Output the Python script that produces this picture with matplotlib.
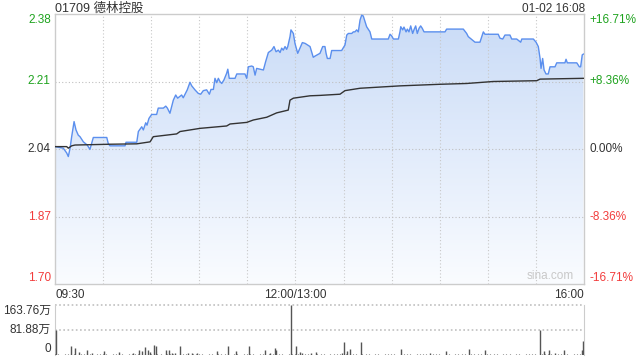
import numpy as np
import matplotlib
matplotlib.use('Agg')
import matplotlib.pyplot as plt
from matplotlib.colors import LinearSegmentedColormap

plt.rcParams['font.family'] = ['Liberation Sans', 'Noto Sans CJK SC', 'DejaVu Sans']

# minutes since 09:30 (lunch break removed), 330 = 16:00
price_t = [0, 5.2, 7.3, 8.3, 9.4, 10.4, 11.9, 13.1, 14.5, 15.6,
           17.7, 20.1, 21.8, 23.9, 32.3, 33.2, 34.3, 43.7, 44.3, 51,
           52, 54.1, 55.1, 56.6, 57.4, 58.6, 60.3, 63.4, 64.4, 67.6,
           69.1, 70.1, 71.7, 72.8, 73.8, 75.3, 76.5, 79, 80, 81.1,
           82.5, 84.2, 85.3, 87.3, 89.4, 90.9, 92.5, 94.6, 96.3, 97.3,
           98.8, 99.8, 100.9, 101.9, 102.9, 104, 105.4, 107.1, 107.8, 108.7,
           112.3, 113.4, 118.5, 119.6, 120.6, 122.7, 123.7, 124.8, 125.8, 130,
           131.4, 133.1, 135.2, 136.6, 137.9, 139.3, 140.4, 141.4, 142.4, 143.5,
           144.5, 145.2, 146.6, 147.2, 148.7, 149.7, 151.4, 152.8, 154.3, 156,
           159.1, 161.1, 162.2, 165.3, 167, 168.4, 169.1, 169.9, 171.6, 172.6,
           178.8, 180.9, 182, 183, 185.1, 186.1, 187.1, 188.2, 189.2, 190.3,
           191.3, 192.3, 193.4, 194.4, 196.5, 197.6, 207.9, 209, 210, 211.1,
           214.2, 215.2, 215.7, 216.9, 217.7, 219, 219.8, 220.8, 221.9, 223.1,
           224, 225, 226, 227.1, 228.1, 229.1, 230.2, 243.3, 244.3, 254.7,
           256.8, 257.8, 259.9, 262, 265.1, 266.2, 267.2, 268.2, 276.5, 277.6,
           279.3, 280.7, 283.8, 284.9, 288, 290.5, 291.2, 298.4, 300.1, 301.5,
           302.6, 303.2, 304.2, 305.1, 306.3, 307.7, 308.8, 311.9, 313, 318.1,
           318.8, 319.6, 325.5, 327.1, 327.9, 328.9, 329.6]
price_v = [2.046, 2.042, 2.030, 2.021, 2.042, 2.071, 2.109, 2.088, 2.075, 2.071,
           2.058, 2.050, 2.039, 2.069, 2.069, 2.054, 2.048, 2.048, 2.057, 2.057,
           2.084, 2.096, 2.088, 2.106, 2.100, 2.117, 2.127, 2.127, 2.143, 2.143,
           2.148, 2.143, 2.130, 2.147, 2.163, 2.176, 2.168, 2.176, 2.169, 2.178,
           2.189, 2.208, 2.199, 2.189, 2.180, 2.178, 2.187, 2.189, 2.178, 2.190,
           2.190, 2.218, 2.207, 2.218, 2.210, 2.205, 2.214, 2.231, 2.241, 2.218,
           2.218, 2.229, 2.229, 2.218, 2.247, 2.249, 2.247, 2.226, 2.243, 2.239,
           2.260, 2.283, 2.289, 2.298, 2.285, 2.289, 2.283, 2.294, 2.289, 2.298,
           2.291, 2.298, 2.323, 2.340, 2.331, 2.306, 2.281, 2.294, 2.308, 2.306,
           2.298, 2.271, 2.274, 2.281, 2.298, 2.298, 2.281, 2.268, 2.268, 2.288,
           2.288, 2.302, 2.327, 2.331, 2.331, 2.335, 2.335, 2.340, 2.335, 2.365,
           2.377, 2.375, 2.361, 2.348, 2.335, 2.317, 2.317, 2.329, 2.325, 2.317,
           2.317, 2.335, 2.348, 2.340, 2.347, 2.335, 2.342, 2.335, 2.350, 2.331,
           2.341, 2.350, 2.331, 2.344, 2.350, 2.344, 2.335, 2.335, 2.342, 2.342,
           2.331, 2.323, 2.316, 2.309, 2.309, 2.323, 2.335, 2.329, 2.329, 2.319,
           2.317, 2.327, 2.327, 2.317, 2.317, 2.309, 2.317, 2.317, 2.309, 2.298,
           2.268, 2.243, 2.268, 2.239, 2.229, 2.229, 2.247, 2.247, 2.257, 2.257,
           2.266, 2.257, 2.257, 2.247, 2.247, 2.277, 2.279]

avg_t = [0, 7.3, 8.3, 10.4, 12.5, 34.3, 51, 59.3, 61.3, 75.9,
         78, 90.5, 107.1, 109.2, 119.6, 123.7, 132.1, 138.3, 145.5, 146.6,
         148.7, 159.1, 165.3, 177.8, 180.9, 190.3, 215.2, 240.2, 256.8, 273.4,
         300.5, 302.6, 329.6]
avg_v = [2.046, 2.046, 2.042, 2.048, 2.050, 2.052, 2.053, 2.058, 2.071, 2.078,
         2.084, 2.092, 2.098, 2.103, 2.107, 2.113, 2.120, 2.131, 2.138, 2.163,
         2.168, 2.174, 2.175, 2.178, 2.187, 2.193, 2.199, 2.203, 2.205, 2.210,
         2.212, 2.216, 2.218]

# volume spikes, in 万 shares
vol_t = [0.4, 10, 12.7, 14.8, 20, 23, 30.4, 39.7, 49, 52.6,
         54.3, 56.3, 57.8, 59.5, 61.6, 63.2, 69.2, 71.3, 73.4, 75,
         78.2, 83.2, 85.7, 89, 100.9, 108.1, 113.3, 121.2, 131, 134.1,
         137.2, 138, 147.4, 150.3, 153.2, 154.3, 160.1, 162.8, 179, 180.3,
         182.4, 184, 191.1, 216, 234.4, 244.1, 258.5, 268.5, 303.2, 305.2,
         308.4, 312.5, 318.3, 329.2, 330]
vol_v = [83, 28, 24, 11, 15, 8, 13, 10, 8, 15,
         12, 25, 18, 10, 32, 28, 15, 15, 8, 8,
         28, 8, 8, 8, 12, 28, 12, 28, 15, 8,
         22, 15, 163.76, 31, 10, 8, 8, 10, 8, 44,
         12, 20, 44, 20, 5, 12, 20, 15, 81, 12,
         15, 8, 18, 15, 45]
# small background volume, one value every 2 minutes (万)
small_vol = [int(c) for c in
             "2312324132231243213223142321324123122314"
             "3212324123132241321322413212342313224132"
             "2132413223142321324123132241322314232132"
             "4123132241322314232132412313224132231423"
             "213224"]

y_ticks = [2.38, 2.21, 2.04, 1.87, 1.70]
pct_labels = ['+16.71%', '+8.36%', '0.00%', '-8.36%', '-16.71%']
x_labels = ['09:30', '12:00/13:00', '16:00']
vol_labels = ['163.76万', '81.88万', '0']

green = '#1fa31f'
red = '#f23c3c'
dark = '#333333'
tick_colors = [green, green, dark, red, red]

fig = plt.figure(figsize=(6.4, 3.6), dpi=100)
ax = fig.add_axes([55 / 640, 1 - 284 / 360, 529 / 640, 270 / 360])
vax = fig.add_axes([55 / 640, 1 - 355 / 360, 529 / 640, 50 / 360])

# gradient fill under the price line
cmap = LinearSegmentedColormap.from_list('fill', ['#fafcff', '#c9dbf7'])
grad = np.linspace(0, 1, 256).reshape(-1, 1)
im = ax.imshow(grad, extent=[0, 330, 1.70, 2.38], origin='lower',
               aspect='auto', cmap=cmap, zorder=1)
poly = ax.fill_between(price_t, price_v, 1.70, facecolor='none',
                       edgecolor='none')
im.set_clip_path(poly.get_paths()[0], transform=ax.transData)

for i in range(1, 11):
    ax.axvline(i * 30, color='#c8c8c8', lw=0.8, ls=(0, (1, 2)), zorder=2)
for y in [2.21, 2.04, 1.87]:
    ax.axhline(y, color='#c0c0c0', lw=0.8, ls=(0, (1, 2)), zorder=2)

ax.plot(price_t, price_v, color='#5b8fee', lw=1.0, zorder=4)
ax.plot(avg_t, avg_v, color='#333333', lw=1.0, zorder=5)

ax.set_xlim(0, 330)
ax.set_ylim(1.70, 2.38)
ax.set_xticks([])
ax.set_yticks([])
for s in ax.spines.values():
    s.set_color('#cccccc')
    s.set_linewidth(1)

ytr = ax.get_yaxis_transform()
for i, (v, p) in enumerate(zip(y_ticks, pct_labels)):
    va = 'top' if i == 0 else ('bottom' if i == len(y_ticks) - 1 else 'center')
    ax.text(-0.008, v, f'{v:.2f}', transform=ytr, ha='right', va=va,
            fontsize=8.5, color=tick_colors[i])
    ax.text(1.011, v, p, transform=ytr, ha='left', va=va,
            fontsize=8.5, color=tick_colors[i])

xtr = ax.get_xaxis_transform()
ax.text(0, -0.018, x_labels[0], transform=xtr, ha='left', va='top',
        fontsize=8.5, color=dark)
ax.text(150, -0.018, x_labels[1], transform=xtr, ha='center', va='top',
        fontsize=8.5, color=dark)
ax.text(330, -0.018, x_labels[2], transform=xtr, ha='right', va='top',
        fontsize=8.5, color=dark)
ax.text(0.981, 0.008, 'sina.com', transform=ax.transAxes, ha='right',
        va='bottom', fontsize=8.5, color='#c8c8c8', zorder=6)

fig.text(55 / 640, 1 - 12 / 360, '01709 德林控股', ha='left',
         va='baseline', fontsize=9, color=dark)
fig.text(585 / 640, 1 - 11.5 / 360, '01-02 16:08', ha='right',
         va='baseline', fontsize=8.5, color=dark)

# volume panel
small_t = [2 * i for i in range(len(small_vol))]
vax.vlines(small_t, 0, small_vol, color='#555555', lw=0.8, zorder=3)
vax.vlines(vol_t, 0, vol_v, color='#555555', lw=1.0, zorder=3)
vax.set_xlim(0, 330.5)
vax.set_ylim(0, 163.76)
vax.axhline(163.76, color='#c0c0c0', lw=1.2, ls=(0, (1, 1.5)), clip_on=False)
vax.axhline(81.88, color='#c0c0c0', lw=1.2, ls=(0, (1, 1.5)))
vax.set_xticks([])
vax.set_yticks([])
vax.spines['top'].set_visible(False)
for k in ['left', 'right', 'bottom']:
    vax.spines[k].set_color('#cccccc')
vax.spines['bottom'].set_visible(False)

vtr = vax.get_yaxis_transform()
for v, lab, va in zip([163.76, 81.88, 0], vol_labels, ['top', 'center', 'bottom']):
    vax.text(-0.008, v, lab, transform=vtr, ha='right', va=va,
             fontsize=8.5, color=dark)

fig.savefig('out.png', dpi=100)
